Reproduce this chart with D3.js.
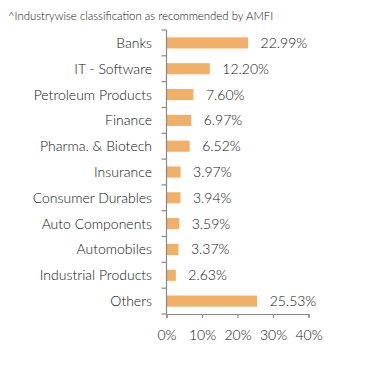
<!DOCTYPE html>
<html><head><meta charset="utf-8">
<script src="https://cdn.jsdelivr.net/npm/d3@7"></script>
<style>
html,body{margin:0;padding:0;background:#fff;}
svg{display:block;font-family:Lato,"Open Sans",sans-serif;font-weight:300;}
</style></head>
<body>
<script>
const categories = ["Banks","IT - Software","Petroleum Products","Finance","Pharma. & Biotech","Insurance","Consumer Durables","Auto Components","Automobiles","Industrial Products","Others"];
const values = [22.99,12.20,7.60,6.97,6.52,3.97,3.94,3.59,3.37,2.63,25.53];
const xTicks = [0,10,20,30,40];
const title = "^Industrywise classification as recommended by AMFI";

const W = 391, H = 367;
const svg = d3.select("body").append("svg").attr("width",W).attr("height",H);

svg.append("text").attr("x",8).attr("y",20).attr("font-size",11.4).attr("fill","#111").text(title);

const x = d3.scaleLinear().domain([0,40]).range([166.5,308.5]);
const y = d3.scaleBand().domain(categories).range([30,314]).paddingInner(0.57).paddingOuter(0.285);

const g = svg.append("g");
g.selectAll("rect.bar").data(values).join("rect")
 .attr("x",x(0)).attr("y",(d,i)=>y(categories[i]))
 .attr("width",d=>x(d)-x(0)).attr("height",y.bandwidth())
 .attr("fill","#F0B068");

g.selectAll("text.val").data(values).join("text")
 .attr("x",d=>x(d)+12.5).attr("y",(d,i)=>y(categories[i])+y.bandwidth()/2)
 .attr("dy","0.36em").attr("font-size",14).attr("fill","#111")
 .text(d=>d.toFixed(2)+"%");

// y axis with separator ticks
const yAxisG = svg.append("g");
yAxisG.append("line").attr("x1",x(0)).attr("x2",x(0)).attr("y1",30).attr("y2",314).attr("stroke","#888").attr("stroke-width",1.2);
const seps = d3.range(categories.length+1).map(i=>30+i*(284/categories.length));
yAxisG.selectAll("line.sep").data(seps).join("line")
 .attr("x1",x(0)-5).attr("x2",x(0)).attr("y1",d=>d).attr("y2",d=>d)
 .attr("stroke","#888").attr("stroke-width",1.2);
yAxisG.selectAll("text.cat").data(categories).join("text")
 .attr("x",152).attr("y",d=>y(d)+y.bandwidth()/2).attr("dy","0.36em")
 .attr("text-anchor","end").attr("font-size",14).attr("fill","#111").text(d=>d);

// x axis
const xAxis = d3.axisBottom(x).tickValues(xTicks).tickFormat(d=>d+"%").tickSize(4).tickPadding(12);
const xg = svg.append("g").attr("transform","translate(0,314)").call(xAxis);
xg.select(".domain").attr("stroke","#888").attr("stroke-width",1.2);
xg.selectAll(".tick line").attr("stroke","#888").attr("stroke-width",1.2);
xg.selectAll(".tick text").attr("font-size",14).attr("fill","#111").attr("font-family","Lato,'Open Sans',sans-serif").attr("font-weight",300);
</script>
</body></html>
